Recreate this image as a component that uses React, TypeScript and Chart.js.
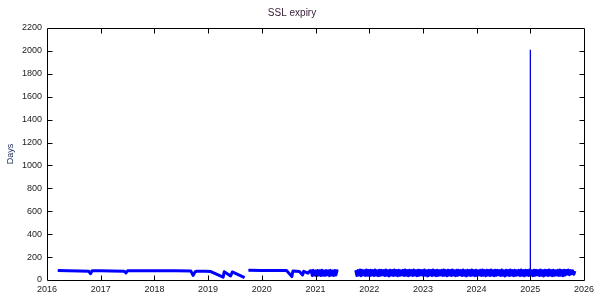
import React, { useEffect, useRef } from 'react';
import { Chart, registerables } from 'chart.js';

Chart.register(...registerables);

const TITLE = 'SSL expiry';
const Y_LABEL = 'Days';
const X_MIN = 2016;
const X_MAX = 2026;
const Y_MAX = 2200;
const Y_STEP = 200;

// early certificates (year, days left)
const earlyYears = [2016.2, 2016.4, 2016.6, 2016.78, 2016.81, 2016.84, 2017.0, 2017.2, 2017.44, 2017.47, 2017.5, 2017.8, 2018.1, 2018.4, 2018.68, 2018.72, 2018.76, 2018.79, 2018.95, 2019.05, 2019.28, 2019.3, 2019.42, 2019.45, 2019.68];
const earlyDays = [82, 80, 79, 76, 55, 80, 80, 79, 76, 62, 80, 80, 80, 80, 78, 40, 72, 76, 76, 74, 25, 72, 35, 70, 20];

const midYears = [2019.75, 2020.0, 2020.25, 2020.46, 2020.56, 2020.58, 2020.7, 2020.76, 2020.78, 2020.86, 2020.9];
const midDays = [85, 84, 84, 82, 30, 78, 74, 45, 76, 60, 80];

// dense renewal band, sampled every 0.02 year
const bandAStart = 2020.92;
const bandAStep = 0.02;
const bandADays = [80, 40, 84, 43, 78, 38, 83, 44, 81, 39, 85, 42, 79, 41, 82, 45, 80, 38, 84, 43, 78, 40, 83, 44, 81, 76];

const bandBStart = 2021.75;
const bandBStep = 0.02;
const bandBDays = [
  86, 40, 82, 43, 88, 38, 84, 45, 81, 39,
  87, 42, 83, 37, 85, 44, 82, 40, 88, 43,
  80, 38, 86, 41, 84, 45, 82, 39, 87, 42,
  81, 36, 85, 44, 83, 40, 88, 43, 82, 38,
  86, 41, 80, 45, 84, 39, 87, 42, 82, 37,
  85, 44, 83, 40, 88, 43, 81, 38, 86, 41,
  84, 45, 82, 39, 87, 42, 80, 36, 85, 44,
  83, 40, 88, 43, 82, 38, 86, 41, 81, 45,
  84, 39, 87, 42, 82, 37, 85, 44, 83, 40,
  88, 43, 80, 38, 86, 41, 84, 45, 82, 39,
  87, 42, 81, 36, 85, 44, 83, 40, 88, 43,
  82, 38, 86, 41, 80, 45, 84, 39, 87, 42,
  82, 37, 85, 44, 83, 40, 88, 43, 81, 38,
  86, 41, 84, 45, 82, 39, 87, 42, 80, 36,
  85, 44, 83, 40, 88, 43, 82, 38, 86, 41,
  81, 45, 84, 39, 87, 42, 82, 37, 85, 44,
  83, 40, 88, 43, 80, 38, 86, 41, 84, 45,
  82, 39, 87, 42, 81, 36, 85, 44, 83, 40,
  88, 43, 82, 38, 86, 41, 80, 45, 84, 39,
  87, 42, 82, 37, 85, 44, 83, 52, 86, 46,
  82, 55, 80, 50, 78,
];

const spikeYears = [2024.998, 2025.0, 2025.002];
const spikeDays = [70, 2010, 60];

function buildMain() {
  const pts: { x: number; y: number | null }[] = [];
  earlyYears.forEach((x, i) => pts.push({ x, y: earlyDays[i] }));
  pts.push({ x: 2019.72, y: null });
  midYears.forEach((x, i) => pts.push({ x, y: midDays[i] }));
  bandADays.forEach((y, i) => pts.push({ x: bandAStart + i * bandAStep, y }));
  pts.push({ x: 2021.55, y: null });
  bandBDays.forEach((y, i) => pts.push({ x: bandBStart + i * bandBStep, y }));
  return pts;
}

const framePlugin = {
  id: 'gnuFrame',
  afterDatasetsDraw(chart: any) {
    const { ctx, chartArea } = chart;
    const { left, right, top, bottom } = chartArea;
    const xs = chart.scales.x;
    const ys = chart.scales.y;
    const L = Math.round(left) + 0.5;
    const R = Math.round(right) + 0.5;
    const T = Math.round(top) + 0.5;
    const B = Math.round(bottom) + 0.5;
    ctx.save();
    ctx.strokeStyle = '#000';
    ctx.lineWidth = 1;
    ctx.beginPath();
    ctx.rect(L, T, R - L, B - T);
    const len = 5;
    xs.ticks.forEach((t: any) => {
      const px = Math.round(xs.getPixelForValue(t.value)) + 0.5;
      if (px <= L + 1 || px >= R - 1) return;
      ctx.moveTo(px, B);
      ctx.lineTo(px, B - len);
      ctx.moveTo(px, T);
      ctx.lineTo(px, T + len);
    });
    ys.ticks.forEach((t: any) => {
      const py = Math.round(ys.getPixelForValue(t.value)) + 0.5;
      if (py <= T + 1 || py >= B - 1) return;
      ctx.moveTo(L, py);
      ctx.lineTo(L + len, py);
      ctx.moveTo(R, py);
      ctx.lineTo(R - len, py);
    });
    ctx.stroke();
    ctx.restore();
  },
};

export default function App() {
  const ref = useRef<HTMLCanvasElement | null>(null);
  useEffect(() => {
    document.body.style.margin = '0';
    if (!ref.current) return;
    const font = "'Liberation Sans', Arial, sans-serif";
    const chart = new Chart(ref.current, {
      type: 'line',
      data: {
        datasets: [
          {
            label: 'expiry',
            data: buildMain() as any,
            borderColor: '#0000ff',
            borderWidth: 3,
            pointRadius: 0,
            borderJoinStyle: 'round',
            spanGaps: false,
            tension: 0,
          },
          {
            label: 'spike',
            data: spikeYears.map((x, i) => ({ x, y: spikeDays[i] })) as any,
            borderColor: '#0000e0',
            borderWidth: 1.3,
            pointRadius: 0,
            tension: 0,
          },
        ],
      },
      options: {
        animation: false,
        responsive: false,
        maintainAspectRatio: false,
        layout: { padding: { left: 0, right: 16, top: 0, bottom: 0 } },
        plugins: {
          legend: { display: false },
          tooltip: { enabled: false },
          title: {
            display: true,
            text: TITLE,
            color: '#331a33',
            font: { family: font, size: 10, weight: 'normal' },
            padding: { top: 7, bottom: 9 },
          },
        },
        scales: {
          x: {
            type: 'linear',
            min: X_MIN,
            max: X_MAX,
            grid: { display: false, drawTicks: false, tickLength: 0 },
            border: { display: false },
            ticks: {
              stepSize: 1,
              autoSkip: false,
              maxRotation: 0,
              padding: 4,
              color: '#222',
              font: { family: font, size: 9 },
              callback: (v: any) => String(v),
            },
            afterFit: (s: any) => {
              s.height = 20;
            },
          },
          y: {
            min: 0,
            max: Y_MAX,
            grid: { display: false, drawTicks: false, tickLength: 0 },
            border: { display: false },
            ticks: {
              stepSize: Y_STEP,
              padding: 5,
              color: '#222',
              font: { family: font, size: 9 },
              callback: (v: any) => String(v),
            },
            title: {
              display: true,
              text: Y_LABEL,
              color: '#1a2a55',
              font: { family: font, size: 9 },
              padding: { top: 5, bottom: 0 },
            },
            afterFit: (s: any) => {
              s.width = 47;
            },
          },
        },
      },
      plugins: [framePlugin],
    });
    return () => chart.destroy();
  }, []);
  return (
    <div style={{ width: 600, height: 300 }}>
      <canvas ref={ref} width={600} height={300} style={{ width: 600, height: 300, display: 'block' }} />
    </div>
  );
}
